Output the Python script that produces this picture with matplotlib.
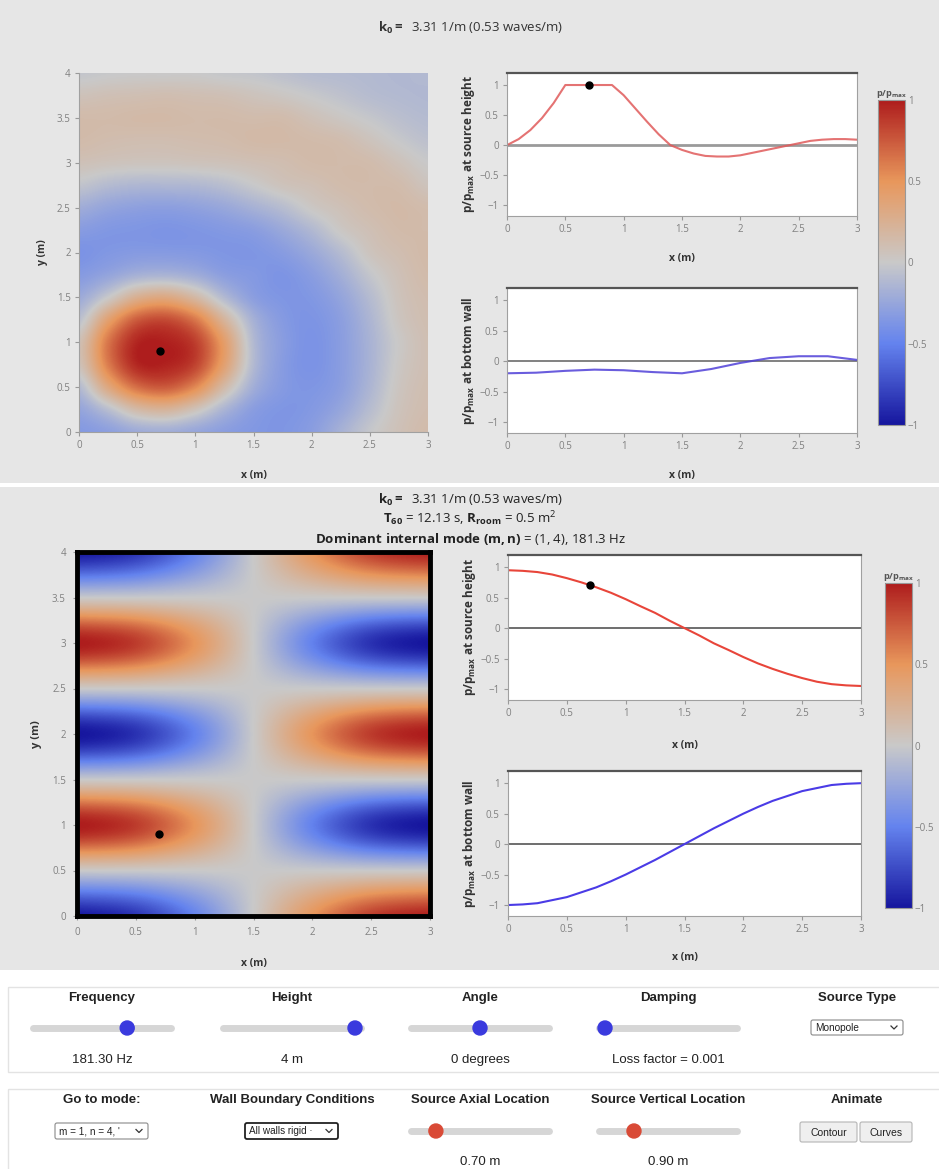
import numpy as np
import matplotlib
matplotlib.use("Agg")
import matplotlib.pyplot as plt
from matplotlib.colors import LinearSegmentedColormap, Normalize
from matplotlib.patches import Rectangle, FancyBboxPatch, Circle
from matplotlib.ticker import FuncFormatter, MultipleLocator

plt.rcParams['font.family'] = ['Open Sans', 'DejaVu Sans']
plt.rcParams['mathtext.fontset'] = 'custom'
plt.rcParams['mathtext.rm'] = 'Open Sans'
plt.rcParams['mathtext.it'] = 'Open Sans:italic'
plt.rcParams['mathtext.bf'] = 'Open Sans:bold'

# ---- data ----
src_x, src_y = 0.7, 0.9

# free field (top panel), p/pmax on a 0.25 m grid, rows y = 0 .. 4, cols x = 0 .. 3
free_x = np.linspace(0, 3, 13)
free_y = np.linspace(0, 4, 17)
free_field = np.array([
    [-0.34, -0.30, -0.22, -0.20, -0.25, -0.31, -0.35, -0.36, -0.31, -0.17, -0.02, 0.08, 0.14],
    [-0.26, -0.08, 0.15, 0.21, 0.07, -0.15, -0.31, -0.36, -0.34, -0.25, -0.09, 0.06, 0.12],
    [-0.11, 0.33, 0.66, 0.74, 0.55, 0.15, -0.19, -0.33, -0.36, -0.30, -0.14, 0.04, 0.11],
    [0.07, 0.60, 0.95, 0.97, 0.84, 0.40, -0.11, -0.32, -0.38, -0.31, -0.16, 0.02, 0.10],
    [0.09, 0.63, 0.96, 0.98, 0.86, 0.43, -0.11, -0.31, -0.38, -0.31, -0.16, 0.01, 0.10],
    [-0.07, 0.40, 0.74, 0.81, 0.63, 0.21, -0.17, -0.33, -0.37, -0.30, -0.14, 0.04, 0.11],
    [-0.22, 0.00, 0.26, 0.33, 0.17, -0.11, -0.30, -0.36, -0.35, -0.26, -0.10, 0.06, 0.12],
    [-0.33, -0.26, -0.17, -0.15, -0.20, -0.30, -0.34, -0.37, -0.31, -0.19, -0.03, 0.08, 0.14],
    [-0.38, -0.35, -0.33, -0.33, -0.34, -0.36, -0.36, -0.32, -0.23, -0.10, 0.05, 0.11, 0.15],
    [-0.32, -0.35, -0.36, -0.37, -0.36, -0.34, -0.31, -0.23, -0.12, 0.02, 0.09, 0.14, 0.14],
    [-0.20, -0.26, -0.29, -0.30, -0.28, -0.24, -0.17, -0.09, 0.02, 0.08, 0.13, 0.15, 0.13],
    [-0.04, -0.10, -0.13, -0.13, -0.12, -0.08, -0.01, 0.06, 0.09, 0.13, 0.14, 0.13, 0.06],
    [0.08, 0.06, 0.05, 0.05, 0.06, 0.07, 0.09, 0.11, 0.14, 0.14, 0.13, 0.07, 0.00],
    [0.14, 0.12, 0.11, 0.11, 0.12, 0.13, 0.15, 0.15, 0.14, 0.12, 0.06, -0.01, -0.06],
    [0.14, 0.14, 0.15, 0.15, 0.14, 0.14, 0.13, 0.13, 0.08, 0.03, -0.02, -0.07, -0.10],
    [0.07, 0.09, 0.10, 0.11, 0.10, 0.09, 0.06, 0.03, -0.01, -0.05, -0.09, -0.11, -0.12],
    [-0.03, -0.01, 0.00, 0.00, 0.00, -0.02, -0.03, -0.06, -0.09, -0.10, -0.11, -0.12, -0.11],
])

free_src_x = [0, 0.1, 0.2, 0.3, 0.4, 0.5, 0.6, 0.7, 0.8, 0.9, 1.0, 1.1, 1.2, 1.3, 1.4, 1.5,
              1.6, 1.7, 1.8, 1.9, 2.0, 2.1, 2.2, 2.3, 2.4, 2.5, 2.6, 2.7, 2.8, 2.9, 3.0]
free_src_p = [0.0, 0.1, 0.25, 0.45, 0.7, 1.0, 1.0, 1.0, 1.0, 1.0, 0.83, 0.61, 0.39, 0.18, 0.0, -0.08,
              -0.14, -0.18, -0.19, -0.19, -0.17, -0.13, -0.09, -0.05, -0.01, 0.03, 0.07, 0.09, 0.1, 0.1, 0.09]
free_wall_x = [0, 0.25, 0.5, 0.75, 1.0, 1.25, 1.5, 1.75, 2.0, 2.25, 2.5, 2.75, 3.0]
free_wall_p = [-0.20, -0.19, -0.16, -0.14, -0.15, -0.18, -0.20, -0.13, -0.03, 0.05, 0.08, 0.08, 0.02]

# room mode (bottom panel), 0.5 m grid
mode_x = np.linspace(0, 3, 7)
mode_y = np.linspace(0, 4, 9)
mode_field = np.array([
    [-1.0, -0.87, -0.5, 0.0, 0.5, 0.87, 1.0],
    [0.0, 0.0, 0.0, 0.0, 0.0, 0.0, 0.0],
    [1.0, 0.87, 0.5, 0.0, -0.5, -0.87, -1.0],
    [0.0, 0.0, 0.0, 0.0, 0.0, 0.0, 0.0],
    [-1.0, -0.87, -0.5, 0.0, 0.5, 0.87, 1.0],
    [0.0, 0.0, 0.0, 0.0, 0.0, 0.0, 0.0],
    [1.0, 0.87, 0.5, 0.0, -0.5, -0.87, -1.0],
    [0.0, 0.0, 0.0, 0.0, 0.0, 0.0, 0.0],
    [-1.0, -0.87, -0.5, 0.0, 0.5, 0.87, 1.0],
])
mode_line_x = np.linspace(0, 3, 25)
mode_src_p = [0.95, 0.94, 0.92, 0.88, 0.82, 0.75, 0.67, 0.58, 0.475, 0.36, 0.25, 0.12, 0.0,
              -0.12, -0.25, -0.36, -0.475, -0.58, -0.67, -0.75, -0.82, -0.88, -0.92, -0.94, -0.95]
mode_wall_p = [-1.0, -0.99, -0.97, -0.92, -0.87, -0.79, -0.71, -0.61, -0.5, -0.38, -0.26, -0.13, 0.0,
               0.13, 0.26, 0.38, 0.5, 0.61, 0.71, 0.79, 0.87, 0.92, 0.97, 0.99, 1.0]
free_dot_p = 1.0
mode_dot_p = 0.71

row1_labels = ["Frequency", "Height", "Angle", "Damping", "Source Type"]
row1_values = ["181.30 Hz", "4 m", "0 degrees", "Loss factor = 0.001", ""]
row1_thumbs = [0.7, 1.0, 0.5, 0.0, None]
row2_labels = ["Go to mode:", "Wall Boundary Conditions", "Source Axial Location",
               "Source Vertical Location", "Animate"]
row2_values = ["", "", "0.70 m", "0.90 m", ""]
row2_thumbs = [None, None, 0.15, 0.23, None]

cmap = LinearSegmentedColormap.from_list(
    'pmap', ['#16169e', '#6483ee', '#c9c9c9', '#e8975c', '#ae1d1d'])

W, H = 939, 1169
fig = plt.figure(figsize=(W / 100, H / 100), dpi=100, facecolor='white')


def px_axes(x0, y0, x1, y1, **kw):
    return fig.add_axes([x0 / W, 1 - y1 / H, (x1 - x0) / W, (y1 - y0) / H], **kw)


fmt = FuncFormatter(lambda v, p: ('%g' % v).replace('-', '\u2212'))


def style_ticks(ax):
    ax.xaxis.set_major_locator(MultipleLocator(0.5))
    ax.yaxis.set_major_locator(MultipleLocator(0.5))
    ax.xaxis.set_major_formatter(fmt)
    ax.yaxis.set_major_formatter(fmt)
    ax.tick_params(labelsize=7, labelcolor='#808080', color='#999999', length=3, width=0.8, pad=3)


def label_axes(ax, ylabel, xlab_y, ylab_x, ysize=8.5):
    ax.set_xlabel('x (m)', fontsize=7.5, fontweight='bold', color='#333333')
    ax.set_ylabel(ylabel, fontsize=ysize, fontweight='bold', color='#333333')
    ax.xaxis.set_label_coords(0.5, xlab_y)
    ax.yaxis.set_label_coords(ylab_x, 0.5)


def draw_field(ax, field, xs, ys):
    dx = xs[1] - xs[0]
    dy = ys[1] - ys[0]
    ax.imshow(field, origin='lower', cmap=cmap, vmin=-1, vmax=1, aspect='auto',
              extent=[xs[0] - dx / 2, xs[-1] + dx / 2, ys[0] - dy / 2, ys[-1] + dy / 2],
              interpolation='catrom', interpolation_stage='data')
    ax.set_xlim(0, 3)
    ax.set_ylim(0, 4)
    ax.plot([src_x], [src_y], 'o', color='black', ms=5)
    style_ticks(ax)


def draw_line(ax, xs, ps, color, dot_p, zero_color, zero_lw, alpha=1.0):
    ax.set_facecolor('white')
    ax.axhline(0, color=zero_color, lw=zero_lw, zorder=1)
    ax.plot(xs, ps, color=color, lw=1.5, alpha=alpha, zorder=2)
    if dot_p is not None:
        ax.plot([src_x], [dot_p], 'o', color='black', ms=5, zorder=3)
    ax.set_xlim(0, 3)
    ax.set_ylim(-1.18, 1.2)
    for s in ['left', 'right', 'bottom']:
        ax.spines[s].set_color('#a0a0a0')
        ax.spines[s].set_linewidth(0.8)
    ax.spines['top'].set_color('#555555')
    ax.spines['top'].set_linewidth(1.6)
    style_ticks(ax)


def draw_cbar(cax):
    sm = matplotlib.cm.ScalarMappable(norm=Normalize(-1, 1), cmap=cmap)
    cb = fig.colorbar(sm, cax=cax, ticks=[-1, -0.5, 0, 0.5, 1], format=fmt)
    cb.outline.set_edgecolor('#999999')
    cb.outline.set_linewidth(0.8)
    cax.tick_params(length=0, labelsize=7, labelcolor='#808080', pad=2)
    cax.set_title('p/p$_{\\mathbf{max}}$', fontsize=6.5, fontweight='bold', color='#555555', pad=3)


# ---- page background / layout ----
page = fig.add_axes([0, 0, 1, 1], zorder=-5)
page.set_xlim(0, W)
page.set_ylim(H, 0)
page.axis('off')
page.add_patch(Rectangle((0, 0), W, 483, color='#e6e6e6', lw=0))
page.add_patch(Rectangle((0, 487), W, 483, color='#e6e6e6', lw=0))

# ---- top panel: free field ----
page.text(470, 28, r'$\mathbf{k_0 =}$  3.31 1/m (0.53 waves/m)', ha='center', va='center',
          fontsize=9.5, color='#333333')

ax1 = px_axes(79, 73, 428, 432)
draw_field(ax1, free_field, free_x, free_y)
for s in ['top', 'right']:
    ax1.spines[s].set_visible(False)
for s in ['left', 'bottom']:
    ax1.spines[s].set_color('#a0a0a0')
    ax1.spines[s].set_linewidth(0.8)
label_axes(ax1, 'y (m)', -0.105, -0.09, ysize=7.5)

ax2 = px_axes(507, 73, 857, 216)
draw_line(ax2, free_src_x, free_src_p, '#e05a5a', free_dot_p, '#9a9a9a', 2.0, alpha=0.85)
label_axes(ax2, 'p/p$_{\\mathbf{max}}$ at source height', -0.26, -0.085)

ax3 = px_axes(507, 288, 857, 433)
draw_line(ax3, free_wall_x, free_wall_p, '#5040d8', None, '#777777', 1.3, alpha=0.85)
label_axes(ax3, 'p/p$_{\\mathbf{max}}$ at bottom wall', -0.255, -0.085)

cax1 = px_axes(878, 100, 905, 425)
draw_cbar(cax1)

# ---- bottom panel: room mode ----
page.text(470, 500, r'$\mathbf{k_0 =}$  3.31 1/m (0.53 waves/m)', ha='center', va='center',
          fontsize=9.5, color='#222222')
page.text(470, 519, r'$\mathbf{T_{60}}$ = 12.13 s, $\mathbf{R_{room}}$ = 0.5 m$^2$', ha='center',
          va='center', fontsize=9.5, color='#222222')
page.text(470, 539, r'$\mathbf{Dominant\ internal\ mode\ (m,n)}$ = (1, 4), 181.3 Hz', ha='center',
          va='center', fontsize=9.5, color='#222222')

ax4 = px_axes(77, 552, 430, 916)
draw_field(ax4, mode_field, mode_x, mode_y)
for s in ax4.spines.values():
    s.set_color('black')
    s.set_linewidth(3.5)
ax4.tick_params(pad=5)
label_axes(ax4, 'y (m)', -0.115, -0.1, ysize=8)

ax5 = px_axes(508, 555, 861, 700)
draw_line(ax5, mode_line_x, mode_src_p, '#e8453a', mode_dot_p, '#555555', 1.2)
label_axes(ax5, 'p/p$_{\\mathbf{max}}$ at source height', -0.276, -0.085)

ax6 = px_axes(508, 771, 861, 916)
draw_line(ax6, mode_line_x, mode_wall_p, '#4a3be6', None, '#555555', 1.2)
label_axes(ax6, 'p/p$_{\\mathbf{max}}$ at bottom wall', -0.248, -0.085)

cax2 = px_axes(885, 583, 912, 908)
draw_cbar(cax2)

# ---- controls ----
ctrl_font = ['Liberation Sans', 'DejaVu Sans']
col_x = [102, 292, 480, 668, 857]
page.add_patch(Rectangle((8, 987), 945, 85, fill=False, ec='#e3e3e3', lw=1))
page.add_patch(Rectangle((8, 1089), 945, 95, fill=False, ec='#e3e3e3', lw=1))


def slider(cx, y, frac, color):
    x0, x1 = cx - 69, cx + 69
    page.plot([x0, x1], [y, y], color='#d6d6d6', lw=5, solid_capstyle='round')
    tx = x0 + 6 + frac * (x1 - x0 - 12)
    page.add_patch(Circle((tx, y), 7, color=color, zorder=5))


def dropdown(x0, y0, w, h, text, dark=False):
    page.add_patch(FancyBboxPatch((x0, y0), w, h, boxstyle='round,pad=0,rounding_size=2',
                                  fc='white', ec='#222222' if dark else '#8a8a8a',
                                  lw=1.3 if dark else 0.8))
    page.text(x0 + 4, y0 + h / 2 + 0.5, text, ha='left', va='center', fontsize=7.2,
              family=ctrl_font, color='#222222')
    cx, cy = x0 + w - 9, y0 + h / 2
    page.plot([cx - 3, cx, cx + 3], [cy - 1.5, cy + 1.5, cy - 1.5], color='#333333', lw=0.9)


def button(x0, y0, w, h, text):
    page.add_patch(FancyBboxPatch((x0, y0), w, h, boxstyle='round,pad=0,rounding_size=2',
                                  fc='#efefef', ec='#b5b5b5', lw=0.8))
    page.text(x0 + w / 2, y0 + h / 2 + 0.5, text, ha='center', va='center', fontsize=7.5,
              family=ctrl_font, color='#222222')


for cx, lab, val, th in zip(col_x, row1_labels, row1_values, row1_thumbs):
    page.text(cx, 998, lab, ha='center', va='center', fontsize=9.5, fontweight='bold',
              family=ctrl_font, color='#222222')
    if val:
        page.text(cx, 1060, val, ha='center', va='center', fontsize=9.5, family=ctrl_font,
                  color='#222222')
    if th is not None:
        slider(cx, 1028, th, '#3a3ade')
dropdown(811, 1020, 92, 15, 'Monopole')

for cx, lab, val, th in zip(col_x, row2_labels, row2_values, row2_thumbs):
    page.text(cx, 1100, lab, ha='center', va='center', fontsize=9.5, fontweight='bold',
              family=ctrl_font, color='#222222')
    if val:
        page.text(cx, 1162, val, ha='center', va='center', fontsize=9.5, family=ctrl_font,
                  color='#222222')
    if th is not None:
        slider(cx, 1131, th, '#d94a36')
dropdown(55, 1123, 93, 16, "m = 1, n = 4, '")
dropdown(245, 1123, 93, 16, 'All walls rigid \u00b7', dark=True)
button(800, 1122, 57, 20, 'Contour')
button(860, 1122, 52, 20, 'Curves')

fig.savefig('out.png', dpi=100, facecolor='white')
